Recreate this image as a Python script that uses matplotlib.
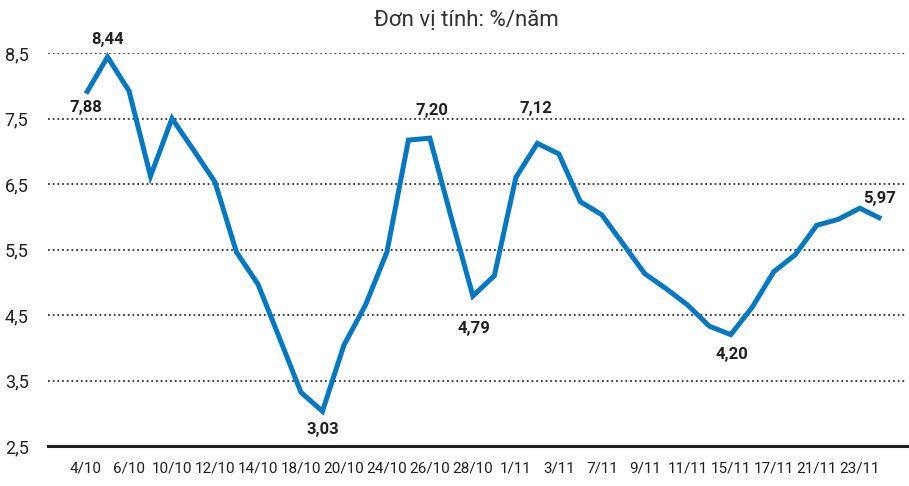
import matplotlib
matplotlib.use("Agg")
import matplotlib.pyplot as plt

# ---------------------------------------------------------------------------
# DATA — rate (%/năm) by day
# ---------------------------------------------------------------------------
dates = ["4/10", "5/10", "6/10", "7/10", "10/10", "11/10", "12/10", "13/10",
         "14/10", "17/10", "18/10", "19/10", "20/10", "23/10", "24/10", "25/10",
         "26/10", "27/10", "28/10", "31/10", "1/11", "2/11", "3/11", "6/11",
         "7/11", "8/11", "9/11", "10/11", "11/11", "14/11", "15/11", "16/11",
         "17/11", "20/11", "21/11", "22/11", "23/11", "24/11"]
rates = [7.88, 8.44, 7.92, 6.62, 7.50, 7.02, 6.53, 5.46,
         4.97, 4.15, 3.32, 3.03, 4.04, 4.65, 5.46, 7.17,
         7.20, 5.98, 4.79, 5.10, 6.60, 7.12, 6.96, 6.23,
         6.03, 5.58, 5.13, 4.90, 4.65, 4.33, 4.20, 4.62,
         5.16, 5.42, 5.87, 5.96, 6.13, 5.97]

# labelled points: index -> pixel offset of the label (dx, dy)
label_idx = [0, 1, 11, 16, 18, 21, 30, 37]
label_off = [(0, -14), (0, 17), (0, -18), (2, 28), (1, -32), (-1, 35), (1, -20), (-2, 20)]

yticks = [2.5, 3.5, 4.5, 5.5, 6.5, 7.5, 8.5]

plt.rcParams['font.family'] = ['Roboto', 'DejaVu Sans']

fig = plt.figure(figsize=(9.09, 4.86), dpi=100)
ax = fig.add_axes([48 / 909, 40 / 486, 859 / 909, 393 / 486])

x = list(range(len(rates)))
ax.plot(x, rates, color='#0479C1', linewidth=3.6, solid_joinstyle='miter',
        solid_capstyle='butt', zorder=3, clip_on=False)

# dotted grid lines + solid baseline
for y in yticks[1:]:
    ax.axhline(y, color='#333333', linestyle=(0, (1, 1.6)), linewidth=1.3, zorder=1)
ax.axhline(yticks[0], color='#231f20', linewidth=2.2, zorder=2, clip_on=False)

for i, (dx, dy) in zip(label_idx, label_off):
    txt = f"{rates[i]:.2f}".replace(".", ",")
    ax.annotate(txt, (x[i], rates[i]), xytext=(dx, dy), textcoords='offset pixels',
                ha='center', va='center', fontsize=12, fontweight='bold',
                color='#231f20', zorder=4, annotation_clip=False)

ax.set_xlim(-1.77, 38.2)
ax.set_ylim(2.5, 8.5)
ax.set_yticks(yticks)
ax.set_yticklabels([f"{v:.1f}".replace(".", ",") for v in yticks],
                   fontsize=13, color='#231f20')
ax.set_xticks(x[::2])
ax.set_xticklabels(dates[::2], fontsize=11, color='#231f20')
ax.tick_params(axis='both', length=0)
ax.tick_params(axis='x', pad=11)
ax.tick_params(axis='y', pad=14)
for s in ax.spines.values():
    s.set_visible(False)

fig.text(466 / 909, 1 - 20 / 486, "Đơn vị tính: %/năm", ha='center', va='center',
         fontsize=16, color='#333333')

fig.savefig("out.png", dpi=100)
